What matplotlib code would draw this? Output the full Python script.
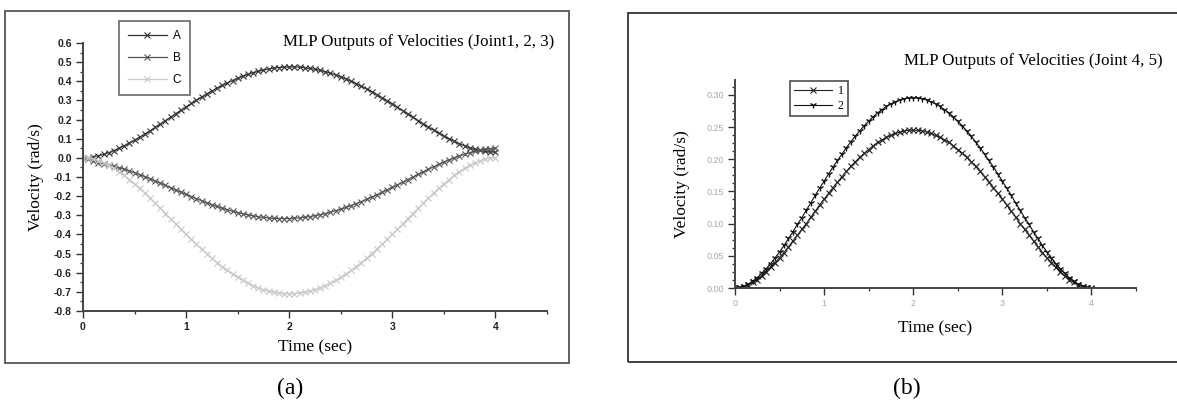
import numpy as np
import matplotlib
matplotlib.use("Agg")
import matplotlib.pyplot as plt
from matplotlib.patches import Rectangle
from matplotlib.ticker import MultipleLocator, FormatStrFormatter

W, H = 1177, 405

# time axis (sec), sample every 0.05 s
t = np.round(np.arange(0, 4.0001, 0.05), 2)

# panel (a): joints 1, 2, 3
vel_a = [0.000, 0.001, 0.005, 0.011, 0.018, 0.027, 0.038, 0.050, 0.063, 0.077,
         0.092, 0.108, 0.124, 0.141, 0.159, 0.176, 0.195, 0.212, 0.231, 0.249,
         0.266, 0.284, 0.301, 0.317, 0.334, 0.349, 0.364, 0.378, 0.391, 0.404,
         0.416, 0.426, 0.436, 0.445, 0.452, 0.459, 0.464, 0.469, 0.472, 0.474,
         0.475, 0.475, 0.474, 0.471, 0.467, 0.463, 0.457, 0.450, 0.442, 0.433,
         0.423, 0.412, 0.400, 0.388, 0.374, 0.361, 0.346, 0.330, 0.314, 0.298,
         0.282, 0.264, 0.247, 0.230, 0.213, 0.195, 0.178, 0.161, 0.145, 0.129,
         0.114, 0.100, 0.087, 0.074, 0.063, 0.053, 0.045, 0.039, 0.034, 0.031,
         0.030]
vel_b = [0.000, -0.008, -0.017, -0.025, -0.032, -0.037, -0.044, -0.051, -0.059, -0.068,
         -0.078, -0.088, -0.098, -0.109, -0.121, -0.132, -0.144, -0.156, -0.168, -0.179,
         -0.191, -0.202, -0.213, -0.224, -0.235, -0.245, -0.254, -0.263, -0.271, -0.279,
         -0.286, -0.292, -0.298, -0.303, -0.308, -0.311, -0.314, -0.316, -0.317, -0.317,
         -0.317, -0.316, -0.313, -0.310, -0.307, -0.302, -0.297, -0.291, -0.284, -0.276,
         -0.268, -0.259, -0.249, -0.239, -0.228, -0.217, -0.205, -0.193, -0.180, -0.167,
         -0.154, -0.141, -0.127, -0.114, -0.100, -0.086, -0.073, -0.060, -0.047, -0.034,
         -0.022, -0.011, 0.000, 0.010, 0.019, 0.027, 0.034, 0.040, 0.045, 0.048,
         0.050]
vel_c = [0.000, -0.001, -0.007, -0.015, -0.026, -0.039, -0.055, -0.072, -0.092, -0.114,
         -0.136, -0.160, -0.185, -0.210, -0.237, -0.263, -0.291, -0.318, -0.346, -0.373,
         -0.400, -0.426, -0.452, -0.476, -0.501, -0.525, -0.547, -0.568, -0.588, -0.607,
         -0.624, -0.640, -0.655, -0.667, -0.678, -0.688, -0.696, -0.702, -0.706, -0.709,
         -0.710, -0.709, -0.706, -0.702, -0.696, -0.688, -0.678, -0.667, -0.655, -0.640,
         -0.624, -0.607, -0.588, -0.568, -0.547, -0.525, -0.501, -0.476, -0.452, -0.426,
         -0.400, -0.373, -0.346, -0.318, -0.291, -0.263, -0.237, -0.210, -0.185, -0.160,
         -0.136, -0.114, -0.092, -0.072, -0.055, -0.039, -0.026, -0.015, -0.007, -0.001,
         0.000]

# panel (b): joints 4, 5
vel_1 = [0.000, 0.000, 0.002, 0.005, 0.009, 0.013, 0.019, 0.025, 0.032, 0.039,
         0.047, 0.055, 0.064, 0.073, 0.082, 0.091, 0.100, 0.110, 0.119, 0.129,
         0.138, 0.147, 0.156, 0.164, 0.173, 0.181, 0.189, 0.196, 0.203, 0.209,
         0.215, 0.221, 0.226, 0.230, 0.234, 0.237, 0.240, 0.242, 0.244, 0.245,
         0.245, 0.245, 0.244, 0.242, 0.240, 0.237, 0.234, 0.230, 0.226, 0.221,
         0.215, 0.209, 0.203, 0.196, 0.189, 0.181, 0.173, 0.164, 0.156, 0.147,
         0.138, 0.129, 0.119, 0.110, 0.100, 0.091, 0.082, 0.073, 0.064, 0.055,
         0.047, 0.039, 0.032, 0.025, 0.019, 0.013, 0.009, 0.005, 0.002, 0.000,
         0.000]
vel_2 = [0.000, 0.001, 0.003, 0.006, 0.011, 0.016, 0.023, 0.030, 0.038, 0.047,
         0.056, 0.066, 0.077, 0.087, 0.099, 0.109, 0.121, 0.132, 0.144, 0.155,
         0.166, 0.177, 0.188, 0.198, 0.208, 0.218, 0.227, 0.236, 0.244, 0.252,
         0.259, 0.266, 0.272, 0.277, 0.282, 0.286, 0.289, 0.292, 0.294, 0.295,
         0.295, 0.295, 0.294, 0.292, 0.289, 0.286, 0.282, 0.277, 0.272, 0.266,
         0.259, 0.252, 0.244, 0.236, 0.227, 0.218, 0.208, 0.198, 0.188, 0.177,
         0.166, 0.155, 0.144, 0.132, 0.121, 0.109, 0.099, 0.087, 0.077, 0.066,
         0.056, 0.047, 0.038, 0.030, 0.023, 0.016, 0.011, 0.006, 0.003, 0.001,
         0.000]

SERIF = ["Liberation Serif", "DejaVu Serif"]
SANS = ["Liberation Sans", "DejaVu Sans"]


def fx(px):
    return px / W


def fy(py):
    return 1 - py / H


def style_axes(ax, tick_color, tick_size, tick_weight, ymajor, yminor, yfmt):
    for s in ("top", "right"):
        ax.spines[s].set_visible(False)
    for s in ("left", "bottom"):
        ax.spines[s].set_linewidth(1.4)
        ax.spines[s].set_color("#444444")
    ax.xaxis.set_major_locator(MultipleLocator(1))
    ax.xaxis.set_minor_locator(MultipleLocator(0.5))
    ax.yaxis.set_major_locator(MultipleLocator(ymajor))
    ax.yaxis.set_minor_locator(MultipleLocator(yminor))
    ax.yaxis.set_major_formatter(FormatStrFormatter(yfmt))
    ax.tick_params(which="major", direction="out", length=5, width=1.0, color="#333333",
                   labelsize=tick_size, labelcolor=tick_color, pad=3)
    ax.tick_params(which="minor", direction="out", length=2.5, width=0.9, color="#333333")
    for lab in ax.get_xticklabels() + ax.get_yticklabels():
        lab.set_fontfamily(SANS)
        lab.set_fontweight(tick_weight)


fig = plt.figure(figsize=(W / 100, H / 100), dpi=100)

# outer frames
fig.add_artist(Rectangle((fx(5), fy(363)), fx(569) - fx(5), fy(11) - fy(363),
                         transform=fig.transFigure, fill=False, ec="#555555", lw=1.3))
fig.add_artist(Rectangle((fx(628), fy(362)), 1.2, fy(13) - fy(362),
                         transform=fig.transFigure, fill=False, ec="#333333", lw=1.3,
                         clip_on=False))

# ---- panel (a)
ax1 = fig.add_axes([fx(83), fy(311), fx(547) - fx(83), fy(43) - fy(311)])
ax1.plot(t, vel_a, color="#333333", lw=0.9, marker="x", ms=4, mew=0.8, label="A")
ax1.plot(t, vel_b, color="#555555", lw=0.9, marker="x", ms=4, mew=0.8, label="B")
ax1.plot(t, vel_c, color="#c8c8c8", lw=0.9, marker="x", ms=4, mew=0.8, label="C")
ax1.set_xlim(0, 4.5)
ax1.set_ylim(-0.8, 0.6)
style_axes(ax1, "#222222", 7.5, "bold", 0.1, 0.05, "%.1f")
ax1.set_xlabel("Time (sec)", family=SERIF, fontsize=12.5, labelpad=5)
ax1.set_ylabel("Velocity (rad/s)", family=SERIF, fontsize=12.5, labelpad=7)
leg = ax1.legend(loc="upper left", bbox_to_anchor=(fx(119), fy(21)),
                 bbox_transform=fig.transFigure, prop={"family": SANS, "size": 8.5},
                 handlelength=3.3, labelspacing=0.85, borderpad=0.75,
                 handletextpad=0.5, fancybox=False, frameon=True, borderaxespad=0)
leg.get_frame().set_edgecolor("#444444")
leg.get_frame().set_linewidth(1.2)
fig.text(fx(554), fy(42), "MLP Outputs of Velocities (Joint1, 2, 3)", family=SERIF,
         fontsize=12.2, ha="right", va="center")

# ---- panel (b)
ax2 = fig.add_axes([fx(735), fy(288), fx(1136) - fx(735), fy(80) - fy(288)])
ax2.plot(t, vel_1, color="#222222", lw=0.8, marker="x", ms=3.8, mew=0.8, label="1")
ax2.plot(t, vel_2, color="#111111", lw=0.8, marker="1", ms=4.8, mew=1.0, label="2")
ax2.set_xlim(0, 4.5)
ax2.set_ylim(0, 0.323)
style_axes(ax2, "#a8a8a8", 6.5, "normal", 0.05, 0.0125, "%.2f")
ax2.set_xlabel("Time (sec)", family=SERIF, fontsize=12.5, labelpad=9)
ax2.set_ylabel("Velocity (rad/s)", family=SERIF, fontsize=12.5, labelpad=12)
leg2 = ax2.legend(loc="upper left", bbox_to_anchor=(fx(790), fy(81)),
                  bbox_transform=fig.transFigure, prop={"family": SERIF, "size": 8.5},
                  handlelength=3.2, labelspacing=0.25, borderpad=0.35,
                  handletextpad=0.5, fancybox=False, frameon=True, borderaxespad=0)
leg2.get_frame().set_edgecolor("#222222")
leg2.get_frame().set_linewidth(1.2)
fig.text(fx(1163), fy(61), "MLP Outputs of Velocities (Joint 4, 5)", family=SERIF,
         fontsize=12.2, ha="right", va="center")

# sub-figure captions
fig.text(fx(290), fy(388), "(a)", family=SERIF, fontsize=17, ha="center", va="center")
fig.text(fx(907), fy(388), "(b)", family=SERIF, fontsize=17, ha="center", va="center")

fig.savefig("out.png", dpi=100)
